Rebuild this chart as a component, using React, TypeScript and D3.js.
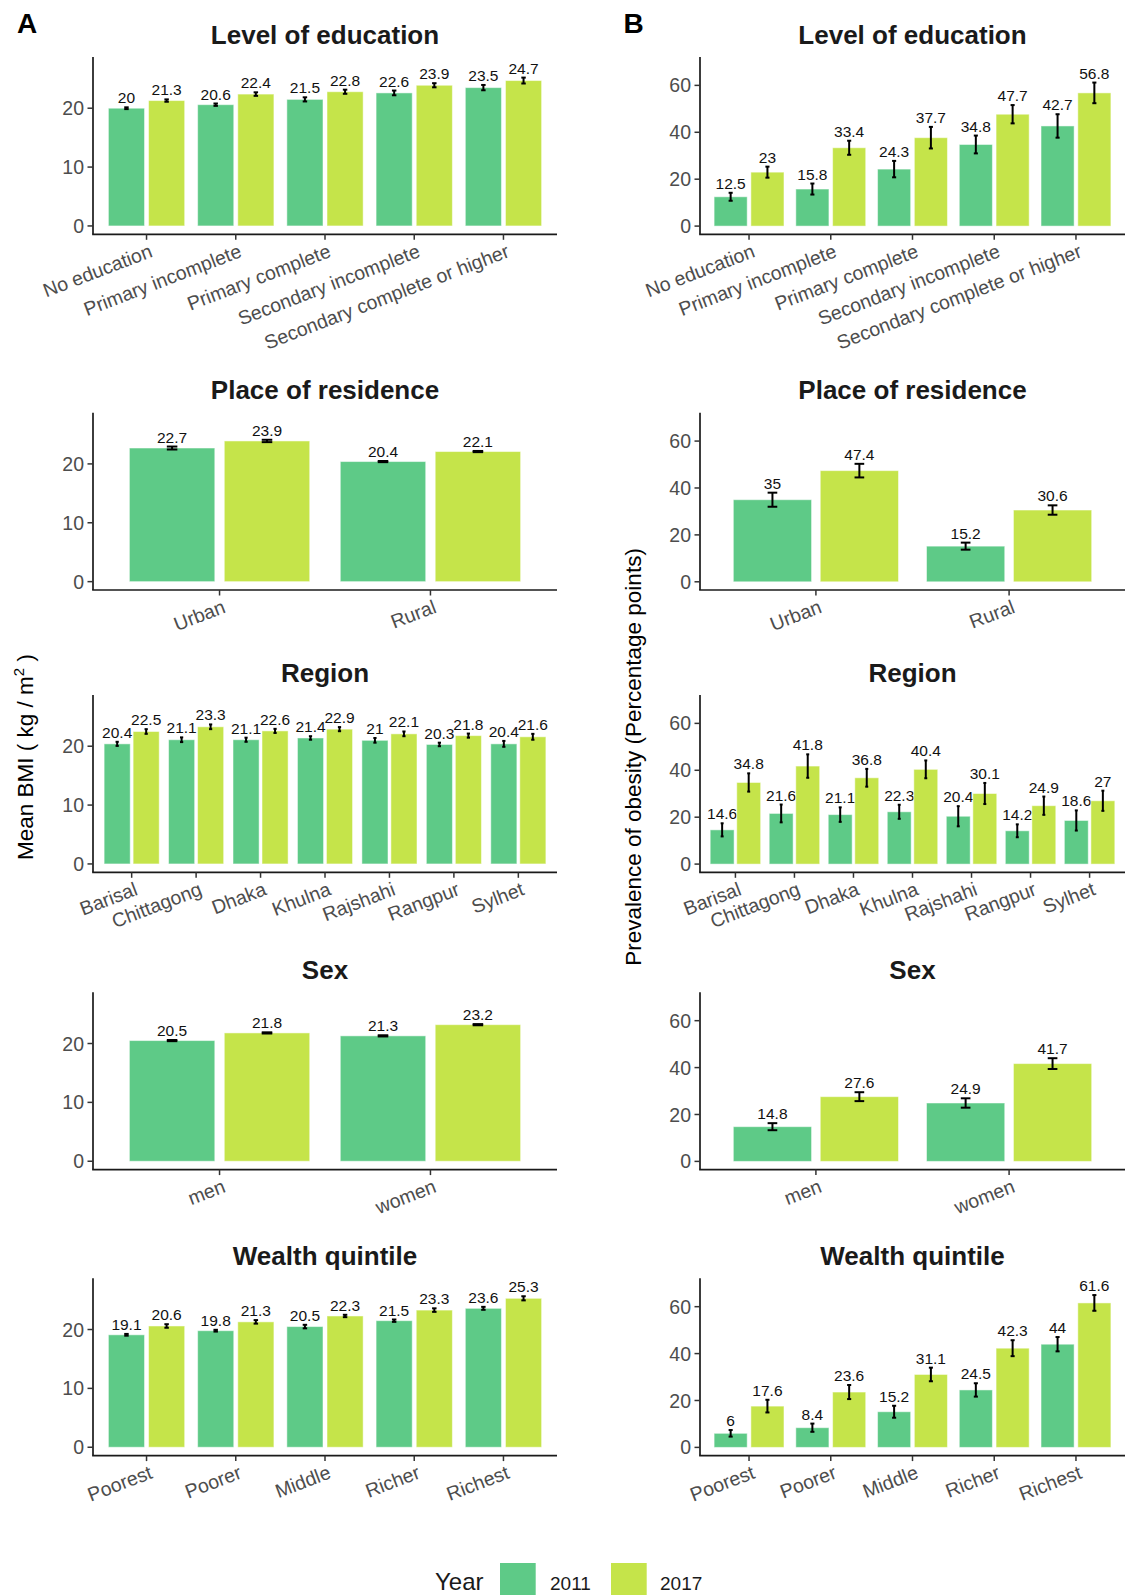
import React from 'react';
import * as d3 from 'd3';

// ---- data ----
const years = ['2011', '2017'];
const yearColors = ['#5ECA87', '#C5E44A'];

const eduCats = ['No education', 'Primary incomplete', 'Primary complete', 'Secondary incomplete', 'Secondary complete or higher'];
const eduBmi2011 = [20, 20.6, 21.5, 22.6, 23.5];
const eduBmi2017 = [21.3, 22.4, 22.8, 23.9, 24.7];
const eduBmiCi2011 = [0.15, 0.2, 0.35, 0.4, 0.45];
const eduBmiCi2017 = [0.2, 0.3, 0.35, 0.35, 0.5];
const eduObe2011 = [12.5, 15.8, 24.3, 34.8, 42.7];
const eduObe2017 = [23, 33.4, 37.7, 47.7, 56.8];
const eduObeCi2011 = [1.7, 2.35, 3.5, 3.8, 5];
const eduObeCi2017 = [2.35, 3, 4.6, 3.9, 4.4];

const resCats = ['Urban', 'Rural'];
const resBmi2011 = [22.7, 20.4];
const resBmi2017 = [23.9, 22.1];
const resBmiCi2011 = [0.25, 0.1];
const resBmiCi2017 = [0.2, 0.1];
const resObe2011 = [35, 15.2];
const resObe2017 = [47.4, 30.6];
const resObeCi2011 = [3, 1.5];
const resObeCi2017 = [2.9, 2];

const regCats = ['Barisal', 'Chittagong', 'Dhaka', 'Khulna', 'Rajshahi', 'Rangpur', 'Sylhet'];
const regBmi2011 = [20.4, 21.1, 21.1, 21.4, 21, 20.3, 20.4];
const regBmi2017 = [22.5, 23.3, 22.6, 22.9, 22.1, 21.8, 21.6];
const regBmiCi2011 = [0.35, 0.4, 0.35, 0.3, 0.4, 0.3, 0.5];
const regBmiCi2017 = [0.4, 0.4, 0.35, 0.35, 0.4, 0.35, 0.5];
const regObe2011 = [14.6, 21.6, 21.1, 22.3, 20.4, 14.2, 18.6];
const regObe2017 = [34.8, 41.8, 36.8, 40.4, 30.1, 24.9, 27];
const regObeCi2011 = [2.8, 3.8, 3.1, 3, 4.3, 2.75, 4.3];
const regObeCi2017 = [3.9, 5, 3.8, 3.8, 4.5, 3.9, 4.3];

const sexCats = ['men', 'women'];
const sexBmi2011 = [20.5, 21.3];
const sexBmi2017 = [21.8, 23.2];
const sexBmiCi2011 = [0.1, 0.1];
const sexBmiCi2017 = [0.1, 0.1];
const sexObe2011 = [14.8, 24.9];
const sexObe2017 = [27.6, 41.7];
const sexObeCi2011 = [1.5, 2];
const sexObeCi2017 = [1.9, 2.3];

const wealthCats = ['Poorest', 'Poorer', 'Middle', 'Richer', 'Richest'];
const wealthBmi2011 = [19.1, 19.8, 20.5, 21.5, 23.6];
const wealthBmi2017 = [20.6, 21.3, 22.3, 23.3, 25.3];
const wealthBmiCi2011 = [0.15, 0.15, 0.3, 0.2, 0.25];
const wealthBmiCi2017 = [0.3, 0.3, 0.2, 0.3, 0.35];
const wealthObe2011 = [6, 8.4, 15.2, 24.5, 44];
const wealthObe2017 = [17.6, 23.6, 31.1, 42.3, 61.6];
const wealthObeCi2011 = [1.4, 1.75, 2.55, 2.85, 3.05];
const wealthObeCi2017 = [2.7, 3, 2.9, 3.4, 3.35];

const rowTitles = ['Level of education', 'Place of residence', 'Region', 'Sex', 'Wealth quintile'];
const bmiTicks = [0, 10, 20];
const obeTicks = [0, 20, 40, 60];

const rows = [
  { cats: eduCats, a: [eduBmi2011, eduBmi2017], ae: [eduBmiCi2011, eduBmiCi2017], b: [eduObe2011, eduObe2017], be: [eduObeCi2011, eduObeCi2017] },
  { cats: resCats, a: [resBmi2011, resBmi2017], ae: [resBmiCi2011, resBmiCi2017], b: [resObe2011, resObe2017], be: [resObeCi2011, resObeCi2017] },
  { cats: regCats, a: [regBmi2011, regBmi2017], ae: [regBmiCi2011, regBmiCi2017], b: [regObe2011, regObe2017], be: [regObeCi2011, regObeCi2017] },
  { cats: sexCats, a: [sexBmi2011, sexBmi2017], ae: [sexBmiCi2011, sexBmiCi2017], b: [sexObe2011, sexObe2017], be: [sexObeCi2011, sexObeCi2017] },
  { cats: wealthCats, a: [wealthBmi2011, wealthBmi2017], ae: [wealthBmiCi2011, wealthBmiCi2017], b: [wealthObe2011, wealthObe2017], be: [wealthObeCi2011, wealthObeCi2017] },
];

// ---- layout ----
const W = 1128;
const H = 1595;
const FONT = '"Liberation Sans", Arial, Helvetica, sans-serif';
const rowTops = [57, 412.7, 695, 992.3, 1278.3];
const plotH = 177.3;
const colA = { x0: 93, x1: 557, domain: [-1.42, 28.7], ticks: bmiTicks };
const colB = { x0: 700, x1: 1125, domain: [-3.5, 72.1], ticks: obeTicks };

const Panel = ({ col, top, title, cats, vals, errs }) => {
  const x = d3.scalePoint().domain(cats).range([col.x0, col.x1]).padding(0.6);
  const step = x.step();
  const y = d3.scaleLinear().domain(col.domain).range([top + plotH, top]);
  const bottom = top + plotH;
  const barW = 0.405 * step;
  const capW = 0.025 * step;

  return (
    <g>
      <text x={(col.x0 + col.x1) / 2} y={top - 13.5} textAnchor="middle"
        fontSize={26} fontWeight="bold" fill="#1a1a1a">{title}</text>

      {cats.map((c, i) => [0, 1].map(g => {
        const v = vals[g][i];
        const e = errs[g][i];
        const cx = x(c) + (g === 0 ? -0.225 : 0.225) * step;
        return (
          <g key={c + g}>
            <rect x={cx - barW / 2} y={y(v)} width={barW} height={y(0) - y(v)}
              fill={yearColors[g]} stroke="#ffffff" strokeOpacity={0.5} strokeWidth={1} />
            <line x1={cx} x2={cx} y1={y(v - e)} y2={y(v + e)} stroke="#000" strokeWidth={2} />
            <line x1={cx - capW} x2={cx + capW} y1={y(v - e)} y2={y(v - e)} stroke="#000" strokeWidth={2} />
            <line x1={cx - capW} x2={cx + capW} y1={y(v + e)} y2={y(v + e)} stroke="#000" strokeWidth={2} />
            <text x={cx} y={y(v + e) - 4} textAnchor="middle" fontSize={15.5} fill="#111">{String(v)}</text>
          </g>
        );
      }))}

      {/* axes */}
      <line x1={col.x0} x2={col.x0} y1={top} y2={bottom} stroke="#1a1a1a" strokeWidth={1.7} />
      <line x1={col.x0 - 0.85} x2={col.x1} y1={bottom} y2={bottom} stroke="#1a1a1a" strokeWidth={1.7} />
      {col.ticks.map(t => (
        <g key={t}>
          <line x1={col.x0 - 5.5} x2={col.x0} y1={y(t)} y2={y(t)} stroke="#333" strokeWidth={1.5} />
          <text x={col.x0 - 9} y={y(t)} dy="0.36em" textAnchor="end" fontSize={19.5} fill="#4d4d4d">{t}</text>
        </g>
      ))}
      {cats.map(c => (
        <g key={c}>
          <line x1={x(c)} x2={x(c)} y1={bottom} y2={bottom + 5.5} stroke="#333" strokeWidth={1.5} />
          <text transform={`translate(${x(c) + 2},${bottom + 9}) rotate(-21)`} dy="0.72em"
            textAnchor="end" fontSize={19.5} fill="#4d4d4d">{c}</text>
        </g>
      ))}
    </g>
  );
};

const App = () => {
  return (
    <div style={{ position: 'absolute', left: 0, top: 0 }}>
      <svg width={W} height={H} style={{ display: 'block', background: '#fff', fontFamily: FONT }}>
        <rect width={W} height={H} fill="#fff" />
        <text x={17} y={33} fontSize={28} fontWeight="bold" fill="#000">A</text>
        <text x={623.5} y={33} fontSize={28} fontWeight="bold" fill="#000">B</text>

        {rows.map((r, k) => (
          <g key={k}>
            <Panel col={colA} top={rowTops[k]} title={rowTitles[k]} cats={r.cats} vals={r.a} errs={r.ae} />
            <Panel col={colB} top={rowTops[k]} title={rowTitles[k]} cats={r.cats} vals={r.b} errs={r.be} />
          </g>
        ))}

        <text transform="translate(33,757) rotate(-90)" textAnchor="middle" fontSize={22.5} fill="#000">
          Mean BMI ( kg / m<tspan fontSize={15} dy={-9}>2</tspan><tspan dy={9}> )</tspan>
        </text>
        <text transform="translate(641,757) rotate(-90)" textAnchor="middle" fontSize={22.5} fill="#000">
          Prevalence of obesity (Percentage points)
        </text>

        {/* legend */}
        <text x={435} y={1590} fontSize={24} fill="#1a1a1a">Year</text>
        {years.map((yr, i) => (
          <g key={yr}>
            <rect x={500 + i * 111} y={1563} width={35.7} height={35.7} fill={yearColors[i]} />
            <text x={550 + i * 110} y={1590} fontSize={19} fill="#1a1a1a">{yr}</text>
          </g>
        ))}
      </svg>
    </div>
  );
};

export default App;
